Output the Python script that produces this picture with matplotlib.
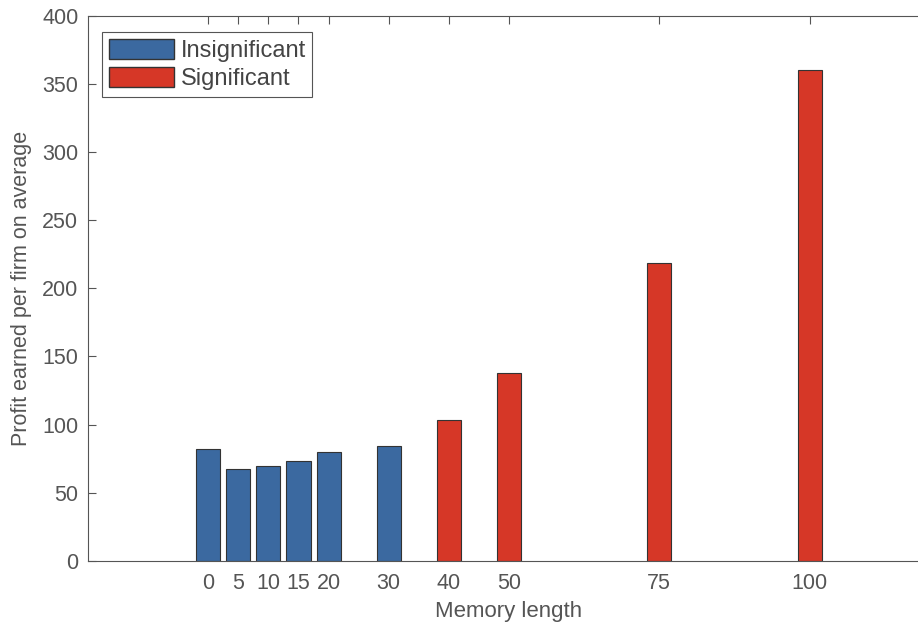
import matplotlib
matplotlib.use("Agg")
import matplotlib.pyplot as plt
from matplotlib.patches import Patch

plt.rcParams['font.family'] = ['Liberation Sans', 'DejaVu Sans']

# memory length and average profit per firm
memory = [0, 5, 10, 15, 20, 30, 40, 50, 75, 100]
profit = [82, 67.5, 69.5, 73.5, 80, 84.5, 103.5, 138, 218.5, 360]
significant = [False, False, False, False, False, False, True, True, True, True]
tick_labels = ['0', '5', '10', '15', '20', '30', '40', '50', '75', '100']

blue = '#3b69a0'
red = '#d63727'
grey = '#555555'

fig = plt.figure(figsize=(9.18, 6.25), dpi=100)
ax = fig.add_axes([0.0959, 0.1029, 0.917, 0.8715])
ax.set_axisbelow(True)  # bars hide the bottom tick marks, like the original

cols = [red if s else blue for s in significant]
ax.bar(memory, profit, width=4, color=cols, edgecolor='#333333', linewidth=0.8)

ax.set_xlim(-20, 120)
ax.set_ylim(0, 400)
ax.set_xticks(memory)
ax.set_xticklabels(tick_labels)
ax.set_yticks(range(0, 401, 50))
ax.tick_params(direction='in', length=6, width=0.8, color=grey,
               labelcolor=grey, labelsize=15.5, top=True, right=False)
ax.tick_params(axis='x', pad=9)
ax.tick_params(axis='y', pad=7)
for s in ax.spines.values():
    s.set_color(grey)
    s.set_linewidth(0.8)
ax.spines['right'].set_visible(False)

ax.set_xlabel('Memory length', color=grey, fontsize=16, labelpad=5)
ax.set_ylabel('Profit earned per firm on average', color=grey, fontsize=15.5, labelpad=7)

handles = [Patch(facecolor=blue, edgecolor='#333333', label='Insignificant'),
           Patch(facecolor=red, edgecolor='#333333', label='Significant')]
leg = ax.legend(handles=handles, loc='upper left', bbox_to_anchor=(0.0166, 0.9706),
                fontsize=17, fancybox=False, edgecolor=grey, framealpha=1,
                handlelength=2.75, handleheight=0.95, handletextpad=0.3,
                borderpad=0.28, labelspacing=0.22, borderaxespad=0)
leg.get_frame().set_linewidth(0.8)
for t in leg.get_texts():
    t.set_color('#444444')

fig.savefig('out.png', dpi=100)
